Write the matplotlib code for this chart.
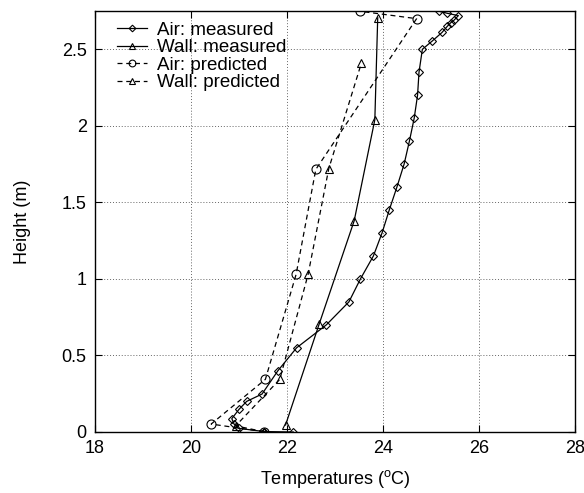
import matplotlib
matplotlib.use("Agg")
import matplotlib.pyplot as plt

plt.rcParams["font.family"] = ["Liberation Sans", "DejaVu Sans"]
plt.rcParams["mathtext.fontset"] = "custom"
plt.rcParams["mathtext.rm"] = "Liberation Sans"

# Air: measured (temperature, height)
air_meas_t = [22.13, 21.52, 20.99, 20.90, 20.85, 21.00, 21.16, 21.48, 21.81, 22.20,
              22.82, 23.29, 23.53, 23.80, 23.98, 24.13, 24.29, 24.44, 24.55, 24.65,
              24.72, 24.75, 24.82, 25.03, 25.23, 25.34, 25.41, 25.48, 25.57, 25.34, 25.17]
air_meas_h = [0.0, 0.003, 0.024, 0.05, 0.087, 0.148, 0.20, 0.248, 0.40, 0.55,
              0.70, 0.85, 1.0, 1.15, 1.30, 1.45, 1.60, 1.75, 1.90, 2.05,
              2.20, 2.35, 2.50, 2.555, 2.61, 2.65, 2.673, 2.69, 2.72, 2.735, 2.748]

# Wall: measured
wall_meas_t = [21.97, 22.67, 23.40, 23.83, 23.89]
wall_meas_h = [0.046, 0.705, 1.38, 2.04, 2.706]

# Air: predicted
air_pred_t = [21.52, 20.42, 21.55, 22.19, 22.60, 24.70, 23.53]
air_pred_h = [0.002, 0.052, 0.344, 1.03, 1.715, 2.70, 2.748]

# Wall: predicted
wall_pred_t = [21.52, 20.93, 21.85, 22.44, 22.87, 23.55]
wall_pred_h = [0.002, 0.04, 0.344, 1.03, 1.72, 2.41]

fig = plt.figure(figsize=(5.84, 4.93), dpi=100)
ax = fig.add_axes([95 / 584, 1 - 432 / 493, 480 / 584, 421 / 493])

mk = dict(markerfacecolor="none", markeredgecolor="black", markeredgewidth=0.8)
ax.plot(air_meas_t, air_meas_h, "-", color="black", lw=0.9, marker="D", ms=4.5,
        label="Air: measured", **mk)
ax.plot(wall_meas_t, wall_meas_h, "-", color="black", lw=0.9, marker="^", ms=5.5,
        label="Wall: measured", **mk)
ax.plot(air_pred_t, air_pred_h, "--", color="black", lw=0.9, marker="o", ms=6.5,
        label="Air: predicted", dashes=(4, 3), **mk)
ax.plot(wall_pred_t, wall_pred_h, "--", color="black", lw=0.9, marker="^", ms=5.5,
        label="Wall: predicted", dashes=(4, 3), **mk)

ax.set_xlim(18, 28)
ax.set_ylim(0, 2.75)
ax.set_xticks([18, 20, 22, 24, 26, 28])
ax.set_yticks([0, 0.5, 1, 1.5, 2, 2.5])
ax.set_yticklabels(["0", "0.5", "1", "1.5", "2", "2.5"])
ax.grid(True, linestyle=(0, (1, 2)), color="#666666", lw=0.7)
ax.tick_params(direction="in", top=True, right=True, labelsize=13, length=5, pad=6)
for s in ax.spines.values():
    s.set_linewidth(1.0)

ax.set_xlabel("Temperatures ($^{\\mathrm{o}}$C)", fontsize=13, labelpad=8)
ax.set_ylabel("Height (m)", fontsize=13, labelpad=22)

leg = ax.legend(loc="upper left", frameon=False, fontsize=13.5, handlelength=1.6,
                labelspacing=0.02, borderaxespad=0, borderpad=0,
                bbox_to_anchor=(0.046, 0.975), handletextpad=0.55, markerscale=0.75)

fig.savefig("out.png", dpi=100)
